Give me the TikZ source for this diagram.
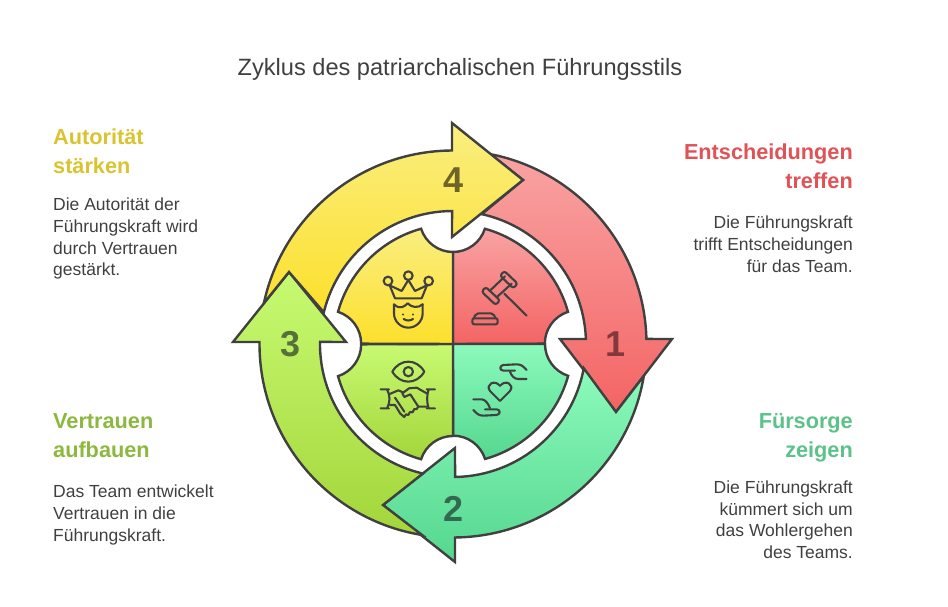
\documentclass[tikz,border=0pt]{standalone}
\usepackage{fontspec}
\setmainfont{Liberation Sans}
\usepackage{tikz}
\definecolor{linegray}{HTML}{404040}
\definecolor{red1}{HTML}{F9A3A3}
\definecolor{red2}{HTML}{F46464}
\definecolor{green1}{HTML}{8CFABC}
\definecolor{green2}{HTML}{55D78F}
\definecolor{lime1}{HTML}{C8FA72}
\definecolor{lime2}{HTML}{A3D63A}
\definecolor{yellow1}{HTML}{FAEE80}
\definecolor{yellow2}{HTML}{FCE02C}
\definecolor{numred}{HTML}{83393B}
\definecolor{numgreen}{HTML}{33694F}
\definecolor{numlime}{HTML}{56703A}
\definecolor{numyellow}{HTML}{6E6428}
\definecolor{headred}{HTML}{E05256}
\definecolor{headgreen}{HTML}{5CC28A}
\definecolor{headlime}{HTML}{8CB83F}
\definecolor{headyellow}{HTML}{D9C430}

\begin{document}
\begin{tikzpicture}[x=1pt, y=1pt]

        % Setup the styles for the shapes and the texts
        \tikzset{part style/.style={draw=linegray, line width=2.4pt},
                 red part/.style={part style, top color=red1, bottom color=red2},
                 green part/.style={part style, top color=green1, bottom color=green2},
                 lime part/.style={part style, top color=lime1, bottom color=lime2},
                 yellow part/.style={part style, top color=yellow1, bottom color=yellow2},
                 icon style/.style={draw=linegray, line width=2.1pt, line join=round, line cap=round},
                 icon grid/.style 2 args={shift={(#1,#2)}, x=0.3333pt, y=-0.3333pt},
                 number style/.style={font=\fontsize{36}{36}\selectfont\bfseries, inner sep=0pt},
                 head style/.style={font=\fontsize{21.7}{29}\selectfont\bfseries, inner sep=0pt},
                 body style/.style={font=\fontsize{17.5}{21.7}\selectfont, text=linegray, inner sep=0pt}}

        \useasboundingbox (-453, -263) rectangle (495, 344);

        % Draw the four quarters
        \path[red part] (0, 0) -- (0, 92) arc[start angle=-90, end angle=-17.8, radius=33.5]
            arc[start angle=74.5, end angle=15.5, radius=119.3]
            arc[start angle=108, end angle=180, radius=33.5] -- cycle;
        \path[green part] (0, 0) -- (92, 0) arc[start angle=180, end angle=252, radius=33.5]
            arc[start angle=-15.5, end angle=-74.5, radius=119.3]
            arc[start angle=17.8, end angle=90, radius=33.5] -- cycle;
        \path[lime part] (0, 0) -- (0, -92) arc[start angle=90, end angle=162.2, radius=33.5]
            arc[start angle=254.5, end angle=195.5, radius=119.3]
            arc[start angle=-72, end angle=0, radius=33.5] -- cycle;
        \path[yellow part] (0, 0) -- (0, 92) arc[start angle=270, end angle=197.8, radius=33.5]
            arc[start angle=105.5, end angle=164.5, radius=119.3]
            arc[start angle=72, end angle=0, radius=33.5] -- cycle;

        % Draw the four arrows
        \path[red part] (79:193.5) arc[start angle=79, end angle=1.5, radius=193.5]
            -- (219, 5) -- (163, -68) -- (107, 5) -- (2.15:133)
            arc[start angle=2.15, end angle=77.5, radius=133] -- (70, 164) -- cycle;
        \path[green part] (-9.5:193.5) arc[start angle=-9.5, end angle=-89.4, radius=193.5]
            -- (2, -218) -- (-70, -161) -- (2, -104) -- (-89.1:133)
            arc[start angle=-89.1, end angle=-10.5, radius=133] -- (163, -68) -- cycle;
        \path[lime part] (260.8:193.5) arc[start angle=260.8, end angle=179.4, radius=193.5]
            -- (-220, 2) -- (-164, 72) -- (-107, 2) -- (179.1:133)
            arc[start angle=179.1, end angle=256.9, radius=133] -- (-70, -161) -- cycle;
        \path[yellow part] (167.8:193.5) arc[start angle=167.8, end angle=90.3, radius=193.5]
            -- (-1, 221) -- (70, 164) -- (-1, 107) -- (90.4:133)
            arc[start angle=90.4, end angle=166.2, radius=133] -- (-164, 72) -- cycle;

        % Draw the numbers
        \node[number style, text=numred] at (163, 0)      (one)   {1};
        \node[number style, text=numgreen] at (1, -165)   (two)   {2};
        \node[number style, text=numlime] at (-162, 0)    (three) {3};
        \node[number style, text=numyellow] at (1, 164)   (four)  {4};

        % Draw the crown
        \begin{scope}[icon grid={-78}{79}]
            \draw[icon style] (39, 48) circle[radius=13] (100, 32) circle[radius=13] (161, 48) circle[radius=13];
            \draw[icon style] (44, 61) -- (60, 100) -- (140, 100) -- (156, 61);
            \draw[icon style] (46, 62) -- (80, 78) -- (100, 45) -- (120, 78) -- (154, 62);
            \draw[icon style] (57, 118) -- (57, 145) arc[start angle=180, end angle=0, radius=43] -- (143, 118);
            \draw[icon style] (57, 118) .. controls (75, 135) and (88, 125) .. (98, 115)
                .. controls (110, 128) and (130, 130) .. (143, 118);
            \draw[icon style] (85, 148) -- (85, 149) (115, 148) -- (115, 149);
            \draw[icon style] (86, 162) .. controls (95, 168) and (105, 168) .. (114, 162);
        \end{scope}

        % Draw the gavel
        \begin{scope}[icon grid={12}{79}]
            \draw[icon style, rounded corners=2.5pt] (50, 80) -- (62, 66) -- (105, 106) -- (92, 120) -- cycle;
            \draw[icon style, rounded corners=2.5pt] (105, 32) -- (118, 18) -- (158, 56) -- (145, 70) -- cycle;
            \draw[icon style] (76, 76) -- (120, 34) (96, 96) -- (140, 56);
            \draw[icon style] (118, 86) -- (185, 152);
            \draw[icon style, rounded corners=2pt] (22, 160) -- (98, 160) -- (98, 178) -- (22, 178) -- cycle;
            \draw[icon style, rounded corners=2pt] (26, 160) -- (34, 145) -- (84, 145) -- (92, 160);
        \end{scope}

        % Draw the eye and the handshake
        \begin{scope}[icon grid={-78}{-11}]
            \draw[icon style] (52, 50) .. controls (75, 10) and (125, 10) .. (148, 50)
                .. controls (125, 90) and (75, 90) .. cycle;
            \draw[icon style] (100, 50) circle[radius=14];
            \draw[icon style] (17, 103) -- (42, 103) (17, 160) -- (42, 160)
                (36, 103) .. controls (46, 120) and (46, 143) .. (36, 160);
            \draw[icon style] (155, 103) -- (180, 103) (155, 160) -- (180, 160)
                (161, 103) .. controls (155, 120) and (155, 143) .. (161, 160);
            \draw[icon style] (44, 117) -- (70, 106) -- (84, 112);
            \draw[icon style] (155, 115) -- (125, 98) -- (102, 100) -- (82, 115) -- (88, 126)
                -- (106, 118) -- (130, 155) -- (155, 155);
            \draw[icon style] (45, 150) -- (60, 150) -- (76, 176) -- (88, 186) -- (93, 178)
                -- (100, 180) -- (105, 171) -- (113, 172) -- (117, 163) -- (125, 162) -- (130, 155);
            \draw[icon style] (60, 128) -- (80, 158) (80, 158) -- (88, 170);
        \end{scope}

        % Draw the heart and the hands
        \begin{scope}[icon grid={12}{-11}]
            \draw[icon style] (105, 138) -- (75, 108) .. controls (60, 88) and (90, 72) .. (105, 93)
                .. controls (120, 72) and (150, 88) .. (135, 108) -- cycle;
            \draw[icon style] (185, 45) .. controls (175, 35) and (170, 28) .. (155, 28) -- (115, 30)
                .. controls (103, 32) and (103, 46) .. (115, 47) -- (150, 47);
            \draw[icon style] (135, 50) .. controls (140, 65) and (150, 72) .. (160, 72) -- (185, 72);
            \draw[icon style] (25, 165) .. controls (35, 175) and (40, 182) .. (55, 182) -- (95, 180)
                .. controls (107, 178) and (107, 164) .. (95, 163) -- (60, 163);
            \draw[icon style] (75, 160) .. controls (70, 145) and (60, 133) .. (50, 133) -- (25, 133);
        \end{scope}

        % Draw the title and the texts
        \node[font=\fontsize{23.6}{26}\selectfont, text=linegray, inner sep=0pt]
                                at (7, 274.5)    (title)     {Zyklus des patriarchalischen Führungsstils};

        \node[head style, text=headred, align=right, anchor=north east]
                                at (400, 200)    (redhead)   {Entscheidungen\\treffen};
        \node[body style, align=right, anchor=north east]
                                at (400, 128)    (redbody)   {Die Führungskraft\\trifft Entscheidungen\\für das Team.};

        \node[head style, text=headgreen, align=right, anchor=north east]
                                at (400, -69)    (greenhead) {Fürsorge\\zeigen};
        \node[body style, align=right, anchor=north east]
                                at (400, -136.5) (greenbody) {Die Führungskraft\\kümmert sich um\\das Wohlergehen\\des Teams.};

        \node[head style, text=headlime, align=left, anchor=north west]
                                at (-400, -69)   (limehead)  {Vertrauen\\aufbauen};
        \node[body style, align=left, anchor=north west]
                                at (-400, -141)  (limebody)  {Das Team entwickelt\\Vertrauen in die\\Führungskraft.};

        \node[head style, text=headyellow, align=left, anchor=north west]
                                at (-400, 215)   (yellowhead) {Autorität\\stärken};
        \node[body style, align=left, anchor=north west]
                                at (-400, 146)   (yellowbody) {Die Autorität der\\Führungskraft wird\\durch Vertrauen\\gestärkt.};
    \end{tikzpicture}
\end{document}
